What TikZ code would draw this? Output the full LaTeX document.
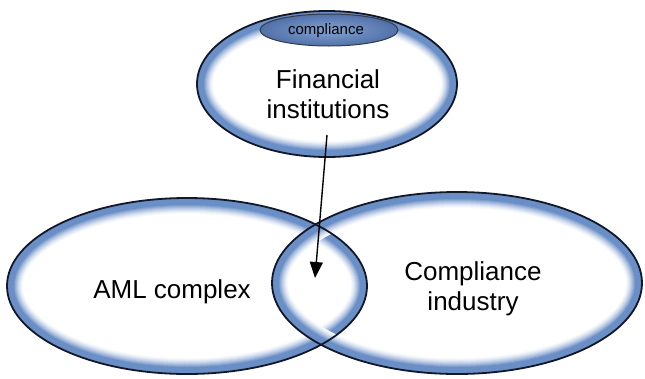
\documentclass[tikz,border=0pt]{standalone}
\usepackage{fontspec}
\setmainfont{Liberation Sans}
\usetikzlibrary{arrows.meta}
\definecolor{band}{RGB}{106,142,198}
\definecolor{edge}{RGB}{18,24,40}
\definecolor{pill}{RGB}{132,164,212}
\definecolor{pilldark}{RGB}{80,112,168}
\tikzset{
  outline/.style={draw=edge, line width=1.8pt},
  bigtext/.style={font=\fontsize{26}{30}\selectfont, align=center, inner sep=0pt},
  smalltext/.style={font=\fontsize{15}{18}\selectfont, inner sep=0pt},
  connector/.style={line width=1.4pt, -{Triangle[length=16pt,width=13pt]}},
}
\newcommand\glowband[3]{%
  \begin{scope}[blend group=multiply]
   \begin{scope}[blend mode=normal]
    \clip (#1) ellipse [x radius=#2pt, y radius=#3pt];
    \foreach \d in {16,15,...,1} {
      \pgfmathsetmacro\pc{min(100,100*((17-\d)/10)^1.5)}
      \draw[line width=2*\d pt, draw=band!\pc] (#1) ellipse [x radius=#2pt, y radius=#3pt];
    }
   \end{scope}
  \end{scope}}
\begin{document}
\begin{tikzpicture}[x=1pt,y=-1pt]
\useasboundingbox (0,0) rectangle (645,378);
\coordinate (cfin) at (327,84);
\coordinate (caml) at (187,286);
\coordinate (cind) at (457,283);
\coordinate (cpill) at (329,30);
\glowband{cfin}{130}{73}
\glowband{caml}{180}{88}
\glowband{cind}{185}{91}
\draw[outline] (cfin) ellipse [x radius=130pt, y radius=73pt];
\draw[outline] (caml) ellipse [x radius=180pt, y radius=88pt];
\draw[outline] (cind) ellipse [x radius=185pt, y radius=91pt];
\shade[inner color=pill, outer color=pilldark] (cpill) ellipse [x radius=69pt, y radius=16pt];
\draw[draw=edge!85, line width=1pt] (cpill) ellipse [x radius=69pt, y radius=16pt];
\node[smalltext, anchor=base] (pilltext) at (326,34) {compliance};
\node[bigtext, anchor=base] (fin) at (328,118) {Financial\\institutions};
\node[bigtext, anchor=base] (aml) at (172,298) {AML complex};
\node[bigtext, anchor=base] (ind) at (473,310) {Compliance\\industry};
\coordinate (astart) at (327,135);
\coordinate (aend) at (315,278);
\draw[connector] (astart) -- (aend);
\end{tikzpicture}
\end{document}
